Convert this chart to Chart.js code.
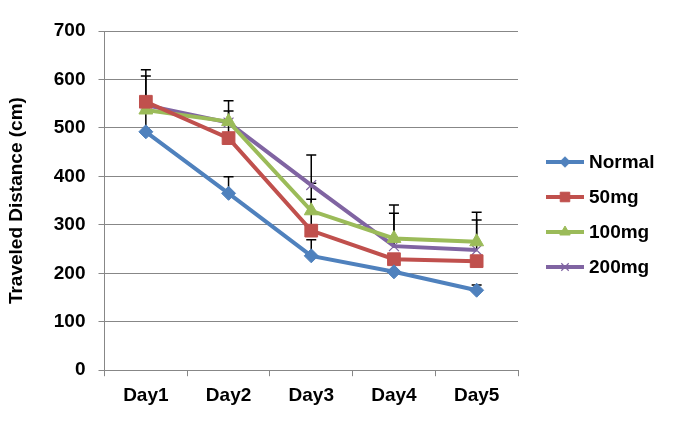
<!DOCTYPE html>
<html>
<head>
<meta charset="utf-8">
<script src="https://cdn.jsdelivr.net/npm/chart.js@4.4.0/dist/chart.umd.min.js"></script>
<style>
  html, body { margin: 0; padding: 0; background: #fff; }
  #wrap { width: 674px; height: 424px; }
</style>
</head>
<body>
<div id="wrap"><canvas id="chart" width="674" height="424"></canvas></div>
<script>
/* --- data --- */
const days = ['Day1', 'Day2', 'Day3', 'Day4', 'Day5'];
const yTicks = [0, 100, 200, 300, 400, 500, 600, 700];

const normal   = [492, 365, 236, 203, 165];
const mg50     = [554, 479, 288, 229, 225];
const mg100    = [537, 513, 329, 272, 265];
const mg200    = [547, 511, 382, 256, 248];

// upper error bars (SD), 0 = not visible
const normalSD = [115, 34, 33, 0, 11];
const mg50SD   = [66, 56, 65, 0, 0];
const mg100SD  = [0, 43, 57, 69, 61];
const mg200SD  = [0, 0, 62, 68, 62];

const COLORS = {
  blue: '#4F81BD',
  red: '#C0504D',
  green: '#9BBB59',
  purple: '#8064A2',
  grid: '#878787',
  text: '#000000'
};
const FONT = "'Liberation Sans', Arial, sans-serif";

const series = [
  { label: 'Normal', data: normal, sd: normalSD, color: COLORS.blue, style: 'rectRot', radius: 7, bw: 1 },
  { label: '50mg', data: mg50, sd: mg50SD, color: COLORS.red, style: 'rect', radius: 9, bw: 1 },
  { label: '100mg', data: mg100, sd: mg100SD, color: COLORS.green, style: 'triangle', radius: 8, bw: 1 },
  { label: '200mg', data: mg200, sd: mg200SD, color: COLORS.purple, style: 'crossRot', radius: 7, bw: 1.2 }
];

/* --- error bars, drawn under the lines --- */
const errorBars = {
  id: 'errorBars',
  beforeDatasetsDraw(chart) {
    const { ctx, scales: { x, y } } = chart;
    ctx.save();
    ctx.strokeStyle = '#000';
    ctx.lineWidth = 1.5;
    series.forEach(s => {
      s.data.forEach((v, i) => {
        if (!s.sd[i]) return;
        const px = x.getPixelForValue(i);
        const y0 = y.getPixelForValue(v);
        const y1 = y.getPixelForValue(v + s.sd[i]);
        ctx.beginPath();
        ctx.moveTo(px, y0);
        ctx.lineTo(px, y1);
        ctx.moveTo(px - 5, y1);
        ctx.lineTo(px + 5, y1);
        ctx.stroke();
      });
    });
    ctx.restore();
  }
};

/* --- legend with line + marker, Excel style --- */
const sideLegend = {
  id: 'sideLegend',
  afterDraw(chart) {
    const ctx = chart.ctx;
    const x0 = 546, x1 = 584, top = 162, step = 35;
    ctx.save();
    series.forEach((s, i) => {
      const yy = top + i * step;
      ctx.strokeStyle = s.color;
      ctx.lineWidth = 4;
      ctx.beginPath();
      ctx.moveTo(x0, yy);
      ctx.lineTo(x1, yy);
      ctx.stroke();
      ctx.fillStyle = s.color;
      ctx.strokeStyle = s.color;
      ctx.lineWidth = s.bw;
      Chart.helpers.drawPoint(ctx, {
        pointStyle: s.style,
        radius: s.radius * 0.75,
        rotation: 0,
        borderWidth: s.bw
      }, (x0 + x1) / 2, yy);
      ctx.fillStyle = COLORS.text;
      ctx.font = `bold 19px ${FONT}`;
      ctx.textBaseline = 'middle';
      ctx.fillText(s.label, 589, yy + 1);
    });
    ctx.restore();
  }
};

new Chart(document.getElementById('chart'), {
  type: 'line',
  data: {
    labels: days,
    datasets: series.map(s => ({
      label: s.label,
      data: s.data,
      borderColor: s.color,
      backgroundColor: s.color,
      borderWidth: 4,
      tension: 0,
      pointStyle: s.style,
      pointRadius: s.radius,
      pointBorderWidth: s.bw,
      pointBackgroundColor: s.color,
      pointBorderColor: s.color
    }))
  },
  options: {
    responsive: false,
    animation: false,
    layout: { padding: { top: 31, right: 156, bottom: 9, left: 4 } },
    plugins: {
      legend: { display: false },
      tooltip: { enabled: false }
    },
    scales: {
      x: {
        offset: true,
        grid: {
          offset: true,
          drawOnChartArea: false,
          tickLength: 6,
          color: COLORS.grid
        },
        border: { color: COLORS.grid, width: 1 },
        ticks: {
          color: COLORS.text,
          padding: 8,
          font: { family: FONT, size: 19, weight: 'bold' }
        }
      },
      y: {
        min: 0,
        max: 700,
        afterBuildTicks: axis => { axis.ticks = yTicks.map(v => ({ value: v })); },
        grid: { color: COLORS.grid, tickLength: 6 },
        border: { color: COLORS.grid, width: 1 },
        ticks: {
          color: COLORS.text,
          padding: 13,
          font: { family: FONT, size: 19, weight: 'bold' }
        },
        title: {
          display: true,
          text: 'Traveled Distance (cm)',
          color: COLORS.text,
          padding: { top: 1, bottom: 13 },
          font: { family: FONT, size: 19, weight: 'bold' }
        }
      }
    }
  },
  plugins: [errorBars, sideLegend]
});
</script>
</body>
</html>
